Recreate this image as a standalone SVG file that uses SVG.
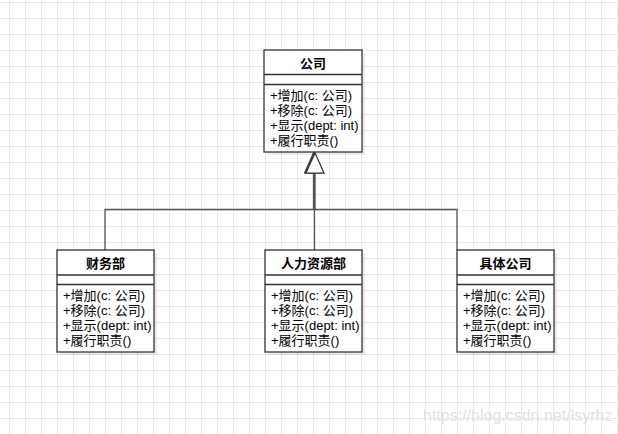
<svg xmlns="http://www.w3.org/2000/svg" width="618" height="434" viewBox="0 0 618 434">
<defs>
<pattern id="grid" x="9" y="2" width="16" height="16" patternUnits="userSpaceOnUse">
<path d="M0.5,0 V16 M0,0.5 H16" fill="none" stroke="#e8e8e8" stroke-width="1"/>
</pattern>
<marker id="tri" viewBox="0 0 22 20" refX="21" refY="10" markerWidth="22" markerHeight="20" markerUnits="userSpaceOnUse" orient="auto">
<path d="M1,1 L21,10 L1,19 Z" fill="#ffffff" stroke="#333333" stroke-width="1.2"/>
</marker>
<style>
.box{fill:#ffffff;stroke:#333333;stroke-width:1.3}
.shadow{fill:#000000;opacity:0.07}
.sep{stroke:#333333;stroke-width:1.3}
.title{font-family:"Liberation Sans","Noto Sans CJK SC",sans-serif;font-size:13px;font-weight:bold;fill:#000000;text-anchor:middle}
.m{font-family:"Liberation Sans","Noto Sans CJK SC",sans-serif;font-size:13px;fill:#000000}
.edge{fill:none;stroke:#555555;stroke-width:1.3}
.wm{font-family:"Liberation Sans",Arial,sans-serif;font-size:16px;fill:#e2e2e2}
</style>
</defs>
<rect x="0" y="0" width="618" height="434" fill="#ffffff"/>
<rect x="0" y="0" width="618" height="434" fill="url(#grid)"/>

<g id="connectors">
<path class="edge" d="M105,250 V209.5 H313.5 V153" marker-end="url(#tri)"/>
<path class="edge" d="M314.5,250 V153" marker-end="url(#tri)"/>
<path class="edge" d="M457,250 V209.5 H315 V153" marker-end="url(#tri)"/>
</g>

<g id="node-company">
<rect class="shadow" x="267" y="53" width="98" height="102"/>
<rect class="box" x="264" y="50" width="98" height="102"/>
<line class="sep" x1="264" y1="74.5" x2="362" y2="74.5"/>
<line class="sep" x1="264" y1="84.5" x2="362" y2="84.5"/>
<text class="title" x="313" y="67.5">公司</text>
<text class="m" x="270" y="100">+增加(c: 公司)</text>
<text class="m" x="270" y="115">+移除(c: 公司)</text>
<text class="m" x="270" y="130">+显示(dept: int)</text>
<text class="m" x="270" y="145">+履行职责()</text>
</g>

<g id="node-finance">
<rect class="shadow" x="60" y="253" width="97" height="102"/>
<rect class="box" x="57" y="250" width="97" height="102"/>
<line class="sep" x1="57" y1="275" x2="154" y2="275"/>
<line class="sep" x1="57" y1="284.5" x2="154" y2="284.5"/>
<text class="title" x="105.5" y="268">财务部</text>
<text class="m" x="63" y="300">+增加(c: 公司)</text>
<text class="m" x="63" y="315">+移除(c: 公司)</text>
<text class="m" x="63" y="330">+显示(dept: int)</text>
<text class="m" x="63" y="345">+履行职责()</text>
</g>

<g id="node-hr">
<rect class="shadow" x="268" y="253" width="97" height="102"/>
<rect class="box" x="265" y="250" width="97" height="102"/>
<line class="sep" x1="265" y1="275" x2="362" y2="275"/>
<line class="sep" x1="265" y1="284.5" x2="362" y2="284.5"/>
<text class="title" x="313.5" y="268">人力资源部</text>
<text class="m" x="271" y="300">+增加(c: 公司)</text>
<text class="m" x="271" y="315">+移除(c: 公司)</text>
<text class="m" x="271" y="330">+显示(dept: int)</text>
<text class="m" x="271" y="345">+履行职责()</text>
</g>

<g id="node-concrete">
<rect class="shadow" x="460" y="253" width="97" height="102"/>
<rect class="box" x="457" y="250" width="97" height="102"/>
<line class="sep" x1="457" y1="275" x2="554" y2="275"/>
<line class="sep" x1="457" y1="284.5" x2="554" y2="284.5"/>
<text class="title" x="505.5" y="268">具体公司</text>
<text class="m" x="463" y="300">+增加(c: 公司)</text>
<text class="m" x="463" y="315">+移除(c: 公司)</text>
<text class="m" x="463" y="330">+显示(dept: int)</text>
<text class="m" x="463" y="345">+履行职责()</text>
</g>

<text class="wm" x="423" y="421">https://blog.csdn.net/lsyrhz</text>
</svg>
